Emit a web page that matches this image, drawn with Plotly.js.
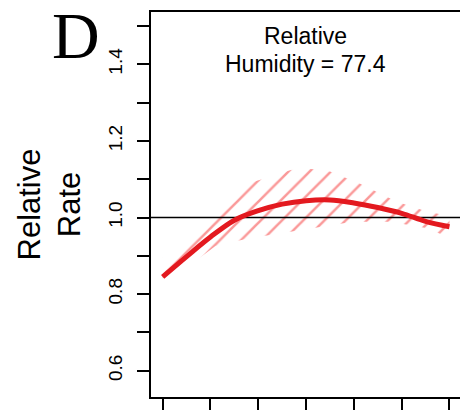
<!DOCTYPE html>
<html>
<head>
<meta charset="utf-8">
<script src="https://cdn.plot.ly/plotly-3.0.1.min.js"></script>
<style>
html,body{margin:0;padding:0;background:#fff;overflow:hidden;}
#chart{width:460px;height:410px;}
</style>
</head>
<body>
<div id="chart"></div>
<script>
// ---- data ----
const curveX = [0, 2.5, 5, 7.5, 10, 12.5, 15, 17.5, 20, 22.5, 25, 27.5, 30];
const curveY = [0.845, 0.898, 0.949, 0.993, 1.018, 1.035, 1.044, 1.046, 1.038, 1.026, 1.011, 0.990, 0.976];

const bandUpperX = [0, 1.3, 3.0, 5.0, 7.0, 9.1, 11.4, 13.4, 15.1, 17.5, 20.6, 24.5, 27.7, 30];
const bandUpperY = [0.895, 0.915, 0.935, 0.990, 1.050, 1.090, 1.108, 1.124, 1.128, 1.120, 1.089, 1.041, 1.015, 1.004];
const bandLowerX = [0, 5.5, 7.4, 9.1, 12.6, 16.5, 19.9, 23.8, 27.7, 29.3, 30];
const bandLowerY = [0.824, 0.925, 0.937, 0.946, 0.960, 0.975, 0.989, 0.989, 0.972, 0.954, 0.950];

const refValue = 1.0;
const xTicks = [0, 5, 10, 15, 20, 25, 30];
const yMajorTicks = [0.6, 0.8, 1.0, 1.2, 1.4];
const yTickLabels = ["0.6", "0.8", "1.0", "1.2", "1.4"];
const panelLabel = "D";
const annotLine1 = "Relative";
const annotLine2 = "Humidity = 77.4";
const yTitle = "Relative<br>Rate";

// ---- build traces ----
const xRange = [-1.22, 31.1];
const yRange = [0.5313, 1.5366];

const bandX = bandUpperX.concat(bandLowerX.slice().reverse());
const bandY = bandUpperY.concat(bandLowerY.slice().reverse());

const traces = [
  {
    x: bandX, y: bandY, type: 'scatter', mode: 'lines',
    fill: 'toself', fillcolor: 'rgba(0,0,0,0)',
    line: {width: 0, color: 'rgba(0,0,0,0)'},
    fillpattern: {shape: '/', fgcolor: 'rgba(248,110,110,0.7)', bgcolor: 'rgba(0,0,0,0)',
                  fillmode: 'replace', size: 15, solidity: 0.17},
    hoverinfo: 'skip', showlegend: false
  },
  {
    x: xRange, y: [refValue, refValue], type: 'scatter', mode: 'lines',
    line: {color: '#000', width: 1.5}, hoverinfo: 'skip', showlegend: false
  },
  {
    x: curveX, y: curveY, type: 'scatter', mode: 'lines',
    line: {color: '#e3191f', width: 5, shape: 'spline', smoothing: 1},
    showlegend: false
  }
];

const layout = {
  width: 460, height: 410,
  margin: {l: 151, r: 0, t: 12, b: 13, pad: 0},
  paper_bgcolor: '#fff', plot_bgcolor: '#fff',
  showlegend: false,
  font: {family: 'Liberation Sans, Arial, sans-serif', color: '#000'},
  xaxis: {
    range: xRange, showgrid: false, zeroline: false,
    showline: true, linecolor: '#000', linewidth: 2, mirror: true,
    ticks: 'outside', ticklen: 16, tickwidth: 2, tickcolor: '#000',
    tickvals: xTicks, showticklabels: false
  },
  yaxis: {
    range: yRange, showgrid: false, zeroline: false,
    showline: true, linecolor: '#000', linewidth: 2, mirror: true,
    ticks: 'outside', ticklen: 12, tickwidth: 2, tickcolor: '#000',
    tickvals: yMajorTicks, ticktext: yTickLabels, tickangle: -90,
    ticklabelstandoff: 7,
    tickfont: {size: 19, family: 'Liberation Sans, Arial, sans-serif', color: '#000'},
    minor: {dtick: 0.1, tick0: 0.5, ticks: 'outside', ticklen: 12, tickwidth: 2, tickcolor: '#000', showgrid: false}
  },
  annotations: [
    {text: panelLabel, xref: 'paper', yref: 'paper', x: (75.5 - 151) / 309, y: 1 + (12 - 35) / 385,
     xanchor: 'center', yanchor: 'middle', showarrow: false,
     font: {family: 'Liberation Serif, Times New Roman, serif', size: 66, color: '#000'}},
    {text: yTitle, xref: 'paper', yref: 'paper', x: (49 - 151) / 309, y: 0.5,
     xanchor: 'center', yanchor: 'middle', showarrow: false, textangle: -90,
     font: {size: 31, color: '#000'}},
    {text: annotLine1, xref: 'paper', yref: 'paper', x: (305.5 - 151) / 309, y: 1 + (12 - 36) / 385,
     xanchor: 'center', yanchor: 'middle', showarrow: false, font: {size: 23, color: '#000'}},
    {text: annotLine2, xref: 'paper', yref: 'paper', x: (305.5 - 151) / 309, y: 1 + (12 - 64) / 385,
     xanchor: 'center', yanchor: 'middle', showarrow: false, font: {size: 23, color: '#000'}}
  ]
};

Plotly.newPlot('chart', traces, layout, {staticPlot: true, displayModeBar: false});
</script>
</body>
</html>
